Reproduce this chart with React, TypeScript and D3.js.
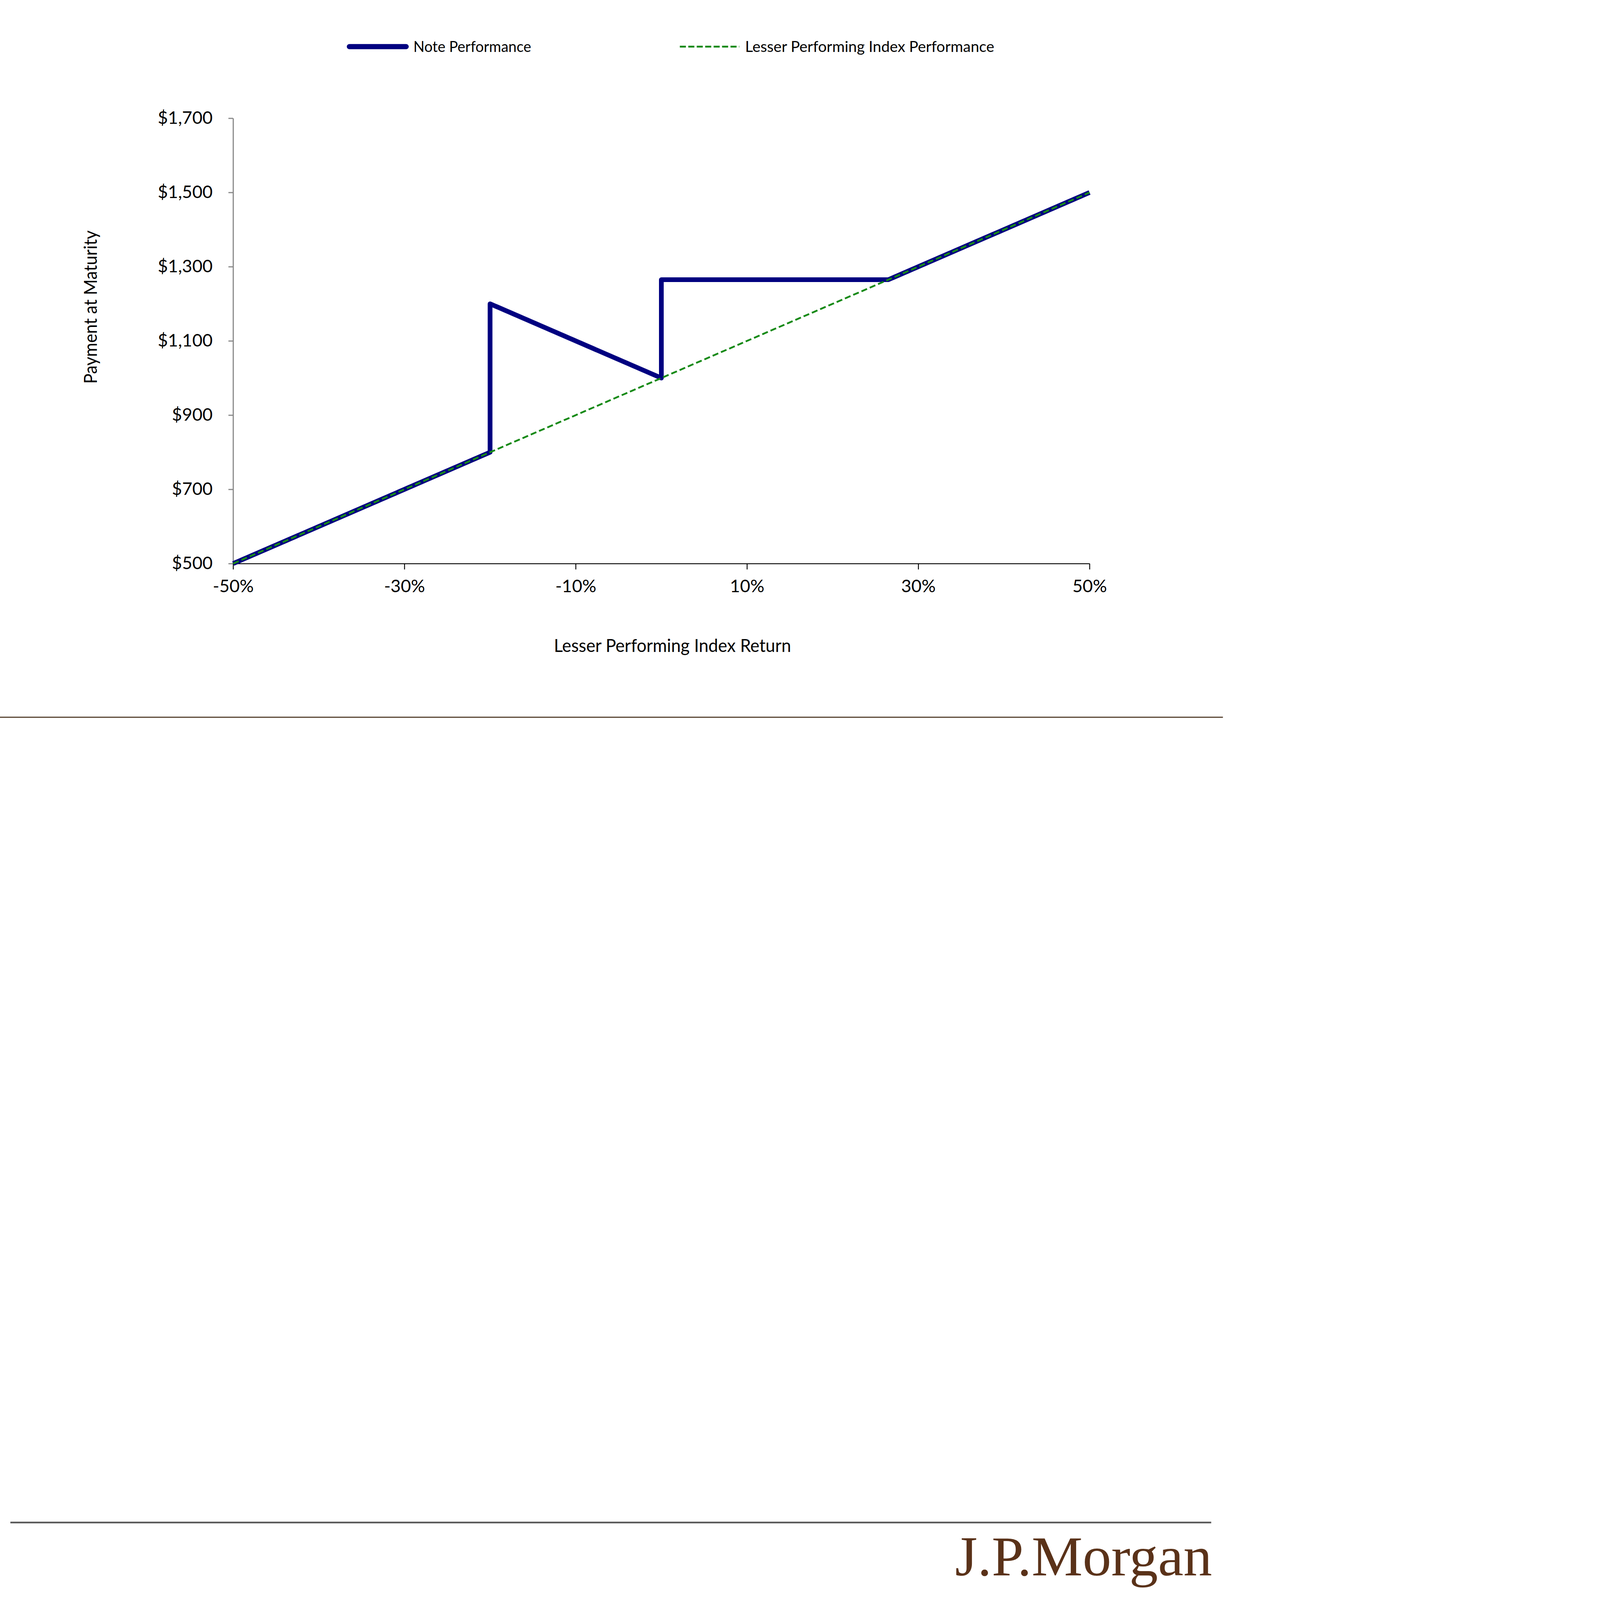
import React, { useEffect, useRef } from "react";
import * as d3 from "d3";

// chart values
const noteReturns = [-50, -20, -20, 0, 0, 26.5, 50];
const notePayments = [500, 800, 1200, 1000, 1265, 1265, 1500];
const indexReturns = [-50, 50];
const indexPayments = [500, 1500];
const xTicks = [-50, -30, -10, 10, 30, 50];
const yTicks = [500, 700, 900, 1100, 1300, 1500, 1700];
const seriesNames = ["Note Performance", "Lesser Performing Index Performance"];

const W = 5471;
const H = 7103;
const SANS = "Lato, 'Open Sans', sans-serif";
const NAVY = "#000080";
const GREEN = "#178a17";

const App: React.FC = () => {
  const ref = useRef<SVGSVGElement>(null);

  useEffect(() => {
    document.body.style.margin = "0";
    document.body.style.overflow = "hidden";
    document.documentElement.style.overflow = "hidden";

    const svg = d3.select(ref.current);
    svg.selectAll("*").remove();

    const x = d3.scaleLinear().domain([-50, 50]).range([1035, 4837]);
    const y = d3.scaleLinear().domain([500, 1700]).range([2502, 525]);

    svg.append("rect").attr("width", W).attr("height", H).attr("fill", "#fff");

    // y axis (gray)
    const yAxis = svg
      .append("g")
      .attr("transform", `translate(${x(-50)},0)`)
      .call(
        d3
          .axisLeft(y)
          .tickValues(yTicks)
          .tickSize(21)
          .tickSizeOuter(0)
          .tickPadding(70)
          .tickFormat((d: any) => "$" + d3.format(",")(d))
      );
    yAxis.select(".domain").attr("stroke", "#868686").attr("stroke-width", 5);
    yAxis.selectAll(".tick line").attr("stroke", "#868686").attr("stroke-width", 5);
    yAxis
      .selectAll(".tick text")
      .attr("fill", "#000")
      .style("font-family", SANS)
      .style("font-size", "78px");

    // x axis (black)
    const xAxis = svg
      .append("g")
      .attr("transform", `translate(0,${y(500)})`)
      .call(
        d3
          .axisBottom(x)
          .tickValues(xTicks)
          .tickSize(26)
          .tickSizeOuter(0)
          .tickPadding(46)
          .tickFormat((d: any) => d + "%")
      );
    xAxis.select(".domain").attr("stroke", "#000").attr("stroke-width", 4);
    xAxis.selectAll(".tick line").attr("stroke", "#000").attr("stroke-width", 4);
    xAxis
      .selectAll(".tick text")
      .attr("fill", "#000")
      .style("font-family", SANS)
      .style("font-size", "78px");

    // note performance
    const notePath = d3
      .line<number>()
      .x((d) => x(d))
      .y((d, i) => y(notePayments[i]));
    svg
      .append("path")
      .datum(noteReturns)
      .attr("d", notePath)
      .attr("fill", "none")
      .attr("stroke", NAVY)
      .attr("stroke-width", 21)
      .attr("stroke-linejoin", "round");

    // lesser performing index
    const indexPath = d3
      .line<number>()
      .x((d) => x(d))
      .y((d, i) => y(indexPayments[i]));
    svg
      .append("path")
      .datum(indexReturns)
      .attr("d", indexPath)
      .attr("fill", "none")
      .attr("stroke", GREEN)
      .attr("stroke-width", 8)
      .attr("stroke-dasharray", "27 13");

    // legend
    svg
      .append("line")
      .attr("x1", 1551)
      .attr("x2", 1803)
      .attr("y1", 207)
      .attr("y2", 207)
      .attr("stroke", NAVY)
      .attr("stroke-width", 23)
      .attr("stroke-linecap", "round");
    svg
      .append("text")
      .attr("x", 1835)
      .attr("y", 230)
      .attr("textLength", 523)
      .attr("lengthAdjust", "spacingAndGlyphs")
      .style("font-family", SANS)
      .style("font-size", "68px")
      .text(seriesNames[0]);
    svg
      .append("line")
      .attr("x1", 3018)
      .attr("x2", 3282)
      .attr("y1", 207)
      .attr("y2", 207)
      .attr("stroke", GREEN)
      .attr("stroke-width", 8)
      .attr("stroke-dasharray", "27 10.5");
    svg
      .append("text")
      .attr("x", 3308)
      .attr("y", 230)
      .attr("textLength", 1106)
      .attr("lengthAdjust", "spacingAndGlyphs")
      .style("font-family", SANS)
      .style("font-size", "68px")
      .text(seriesNames[1]);

    // axis titles
    svg
      .append("text")
      .attr("x", 2459)
      .attr("y", 2894)
      .attr("textLength", 1053)
      .attr("lengthAdjust", "spacingAndGlyphs")
      .style("font-family", SANS)
      .style("font-size", "81px")
      .text("Lesser Performing Index Return");
    svg
      .append("text")
      .attr("transform", "translate(430,1364) rotate(-90)")
      .attr("x", -340)
      .attr("textLength", 681)
      .attr("lengthAdjust", "spacingAndGlyphs")
      .style("font-family", SANS)
      .style("font-size", "81px")
      .text("Payment at Maturity");

    // page rules and logo
    svg
      .append("line")
      .attr("x1", 0)
      .attr("x2", 5429)
      .attr("y1", 3184)
      .attr("y2", 3184)
      .attr("stroke", "#4a3420")
      .attr("stroke-width", 5);
    svg
      .append("line")
      .attr("x1", 46)
      .attr("x2", 5377)
      .attr("y1", 6759)
      .attr("y2", 6759)
      .attr("stroke", "#575757")
      .attr("stroke-width", 7);
    svg
      .append("text")
      .attr("x", 4240)
      .attr("y", 6993)
      .attr("textLength", 1141)
      .attr("lengthAdjust", "spacingAndGlyphs")
      .attr("fill", "#5a3219")
      .style("font-family", "'Liberation Serif', 'DejaVu Serif', serif")
      .style("font-size", "250px")
      .text("J.P.Morgan");
  }, []);

  return (
    <svg
      ref={ref}
      viewBox={`0 0 ${W} ${H}`}
      preserveAspectRatio="xMinYMin meet"
      style={{
        position: "absolute",
        left: 0,
        top: 0,
        width: "100vw",
        height: "100vh",
        display: "block",
      }}
    />
  );
};

export default App;
